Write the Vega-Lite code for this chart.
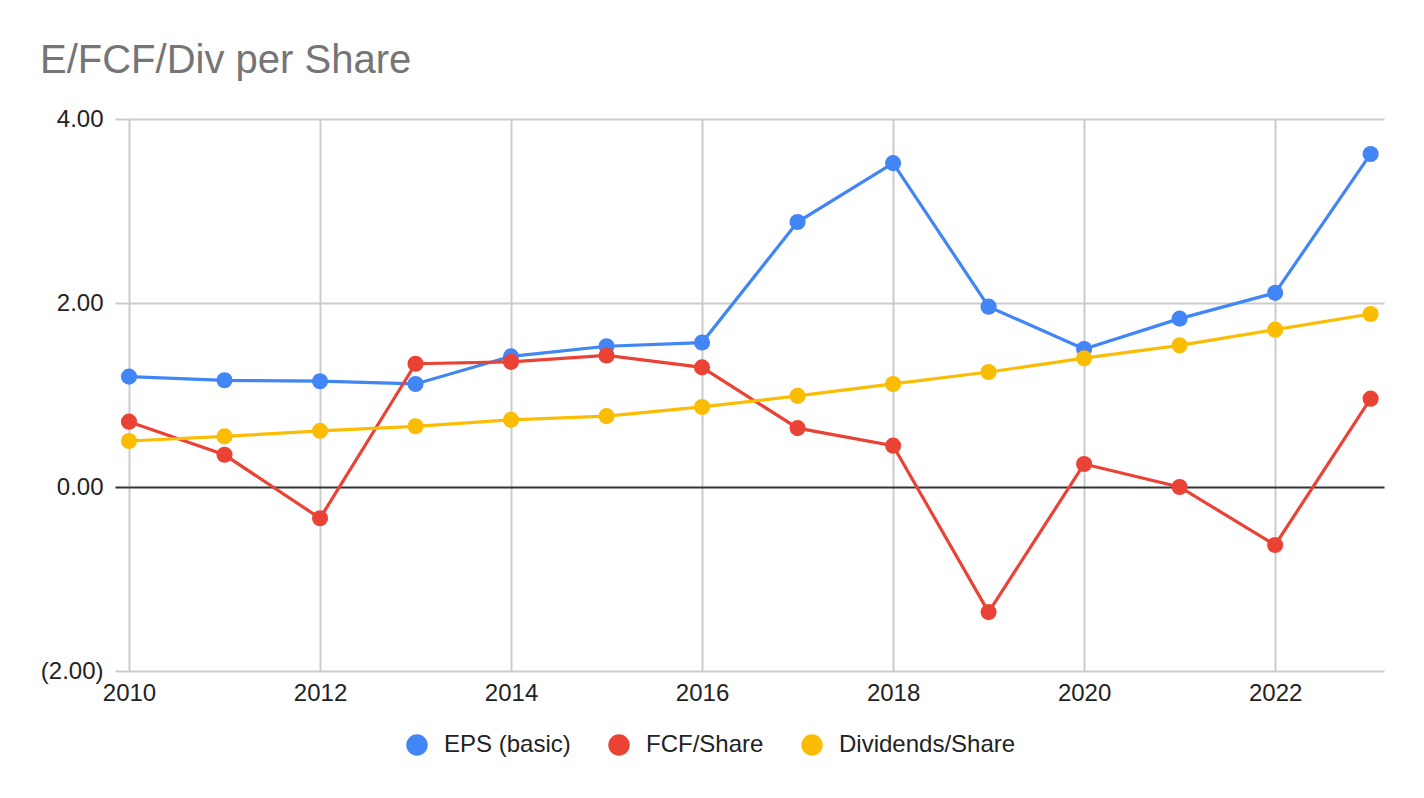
{
  "$schema": "https://vega.github.io/schema/vega-lite/v6.json",
  "description": "E/FCF/Div per Share, 2010-2023",
  "width": 1255,
  "height": 552,
  "autosize": {"type": "none"},
  "padding": {"left": 129, "top": 119, "right": 40, "bottom": 127},
  "background": "white",
  "config": {
    "font": "Liberation Sans",
    "view": {"stroke": null}
  },
  "title": {
    "text": "E/FCF/Div per Share",
    "anchor": "start",
    "frame": "group",
    "dx": -89,
    "offset": 26,
    "fontSize": 40,
    "fontWeight": "normal",
    "color": "#757575",
    "font": "Liberation Sans"
  },
  "data": {
    "values": [
      {"year": 2010, "series": "EPS (basic)", "value": 1.20},
      {"year": 2011, "series": "EPS (basic)", "value": 1.16},
      {"year": 2012, "series": "EPS (basic)", "value": 1.15},
      {"year": 2013, "series": "EPS (basic)", "value": 1.12},
      {"year": 2014, "series": "EPS (basic)", "value": 1.42},
      {"year": 2015, "series": "EPS (basic)", "value": 1.53},
      {"year": 2016, "series": "EPS (basic)", "value": 1.57},
      {"year": 2017, "series": "EPS (basic)", "value": 2.88},
      {"year": 2018, "series": "EPS (basic)", "value": 3.52},
      {"year": 2019, "series": "EPS (basic)", "value": 1.96},
      {"year": 2020, "series": "EPS (basic)", "value": 1.50},
      {"year": 2021, "series": "EPS (basic)", "value": 1.83},
      {"year": 2022, "series": "EPS (basic)", "value": 2.11},
      {"year": 2023, "series": "EPS (basic)", "value": 3.62},
      {"year": 2010, "series": "FCF/Share", "value": 0.71},
      {"year": 2011, "series": "FCF/Share", "value": 0.35},
      {"year": 2012, "series": "FCF/Share", "value": -0.34},
      {"year": 2013, "series": "FCF/Share", "value": 1.34},
      {"year": 2014, "series": "FCF/Share", "value": 1.36},
      {"year": 2015, "series": "FCF/Share", "value": 1.43},
      {"year": 2016, "series": "FCF/Share", "value": 1.30},
      {"year": 2017, "series": "FCF/Share", "value": 0.64},
      {"year": 2018, "series": "FCF/Share", "value": 0.45},
      {"year": 2019, "series": "FCF/Share", "value": -1.36},
      {"year": 2020, "series": "FCF/Share", "value": 0.25},
      {"year": 2021, "series": "FCF/Share", "value": 0.00},
      {"year": 2022, "series": "FCF/Share", "value": -0.63},
      {"year": 2023, "series": "FCF/Share", "value": 0.96},
      {"year": 2010, "series": "Dividends/Share", "value": 0.50},
      {"year": 2011, "series": "Dividends/Share", "value": 0.55},
      {"year": 2012, "series": "Dividends/Share", "value": 0.61},
      {"year": 2013, "series": "Dividends/Share", "value": 0.66},
      {"year": 2014, "series": "Dividends/Share", "value": 0.73},
      {"year": 2015, "series": "Dividends/Share", "value": 0.77},
      {"year": 2016, "series": "Dividends/Share", "value": 0.87},
      {"year": 2017, "series": "Dividends/Share", "value": 0.99},
      {"year": 2018, "series": "Dividends/Share", "value": 1.12},
      {"year": 2019, "series": "Dividends/Share", "value": 1.25},
      {"year": 2020, "series": "Dividends/Share", "value": 1.40},
      {"year": 2021, "series": "Dividends/Share", "value": 1.54},
      {"year": 2022, "series": "Dividends/Share", "value": 1.71},
      {"year": 2023, "series": "Dividends/Share", "value": 1.88}
    ]
  },
  "encoding": {
    "x": {
      "field": "year",
      "type": "quantitative",
      "scale": {"domain": [2010, 2023.14], "nice": false, "zero": false},
      "axis": {
        "title": null,
        "values": [2010, 2012, 2014, 2016, 2018, 2020, 2022],
        "format": "d",
        "domain": false,
        "ticks": false,
        "labelFontSize": 24,
        "labelColor": "#222222",
        "labelPadding": 10,
        "labelFlush": false,
        "gridColor": "#cccccc",
        "gridWidth": 2
      }
    },
    "y": {
      "field": "value",
      "type": "quantitative",
      "scale": {"domain": [-2, 4], "nice": false},
      "axis": {
        "title": null,
        "values": [-2, 0, 2, 4],
        "labelExpr": "datum.value < 0 ? '(' + format(-datum.value, '.2f') + ')' : format(datum.value, '.2f')",
        "domain": false,
        "tickSize": 14,
        "tickWidth": 2,
        "tickColor": {"condition": {"test": "datum.value === 0", "value": "#333333"}, "value": "#cccccc"},
        "gridColor": {"condition": {"test": "datum.value === 0", "value": "#333333"}, "value": "#cccccc"},
        "gridWidth": 2,
        "labelFontSize": 24,
        "labelColor": "#222222",
        "labelPadding": 12
      }
    },
    "color": {
      "field": "series",
      "type": "nominal",
      "sort": ["EPS (basic)", "FCF/Share", "Dividends/Share"],
      "scale": {
        "domain": ["EPS (basic)", "FCF/Share", "Dividends/Share"],
        "range": ["#4285f4", "#ea4335", "#fbbc04"]
      },
      "legend": {
        "title": null,
        "orient": "none",
        "direction": "horizontal",
        "legendX": 276,
        "legendY": 614,
        "symbolType": "circle",
        "symbolSize": 460,
        "symbolStrokeWidth": 0,
        "labelFontSize": 24,
        "labelColor": "#222222",
        "labelOffset": 15,
        "labelLimit": 400,
        "columnPadding": 36
      }
    }
  },
  "layer": [
    {
      "mark": {"type": "line", "strokeWidth": 3.2}
    },
    {
      "mark": {"type": "circle", "size": 260, "opacity": 1}
    }
  ]
}
